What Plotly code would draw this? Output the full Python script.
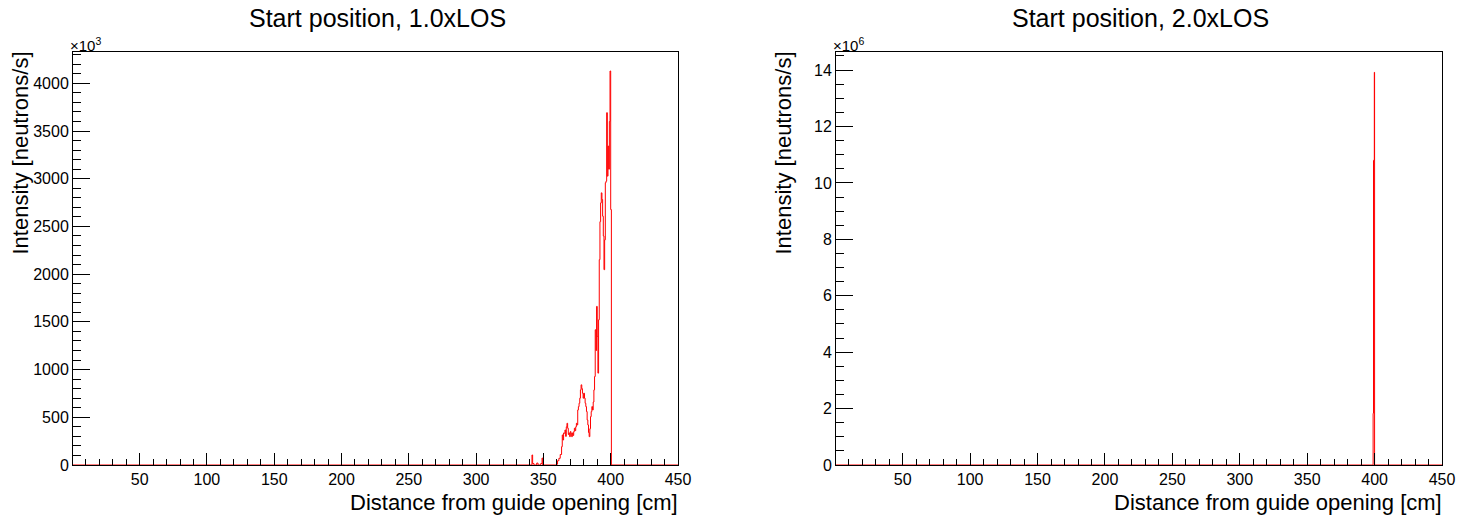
import plotly.graph_objects as go

# ---- data (bin left edges in cm, intensity in neutrons/s) ----
edges_1x = [0.5, 341.5, 342, 343, 345, 346, 348, 349, 349.5, 360, 360.5, 361.5, 362.5,
            363.5, 364, 364.5, 365, 365.5, 366, 366.5, 367, 367.5, 368, 368.5, 369, 369.5,
            370, 370.5, 371, 371.5, 372, 372.5, 373, 373.5, 374, 374.5, 375, 375.5, 376,
            376.5, 377, 377.5, 378, 378.5, 379, 379.5, 380, 380.5, 381, 381.5, 382, 382.5,
            383, 383.5, 384, 384.5, 385, 385.5, 386, 386.5, 387, 387.5, 388, 388.5, 389,
            389.5, 390, 390.5, 391, 391.5, 392, 392.5, 393, 393.5, 394, 394.5, 395, 395.5,
            396, 396.5, 397, 397.5, 398, 398.5, 399, 399.5, 400, 400.5, 450]
intensity_1x_k = [0, 105, 15, 0, 20, 0, 15, 73, 0, 10, 45, 70, 110,
                  192, 315, 262, 336, 333, 367, 300, 400, 437, 385, 320, 336, 297,
                  350, 330, 297, 336, 310, 350, 385, 360, 400, 437, 420, 577, 612,
                  647, 700, 787, 840, 800, 752, 700, 752, 700, 647, 612, 560, 472,
                  420, 340, 297, 380, 507, 560, 612, 577, 660, 787, 927, 1417, 1200,
                  1662, 1347, 963, 1522, 2152, 2550, 2747, 2852, 2782, 2607, 2400, 2047, 2360,
                  2958, 2974, 3692, 3027, 3342, 3100, 3600, 4129, 2677, 0, 0]

edges_2x = [0.5, 398.9, 399.2, 399.8, 400, 450]
intensity_2x_M = [0, 1.83, 10.8, 13.92, 0, 0]

titles = ["Start position, 1.0xLOS", "Start position, 2.0xLOS"]
x_title = "Distance from guide opening [cm]"
y_title = "Intensity [neutrons/s]"
exponents = ["3", "6"]

FONT = "Liberation Sans, Arial, Helvetica, sans-serif"
W, H = 1472, 518
dom_x = [[73 / W, 678 / W], [836 / W, 1442 / W]]
dom_y = [(518 - 465) / H, (518 - 52) / H]

fig = go.Figure()
fig.add_trace(go.Scatter(x=edges_1x, y=intensity_1x_k, mode="lines", line_shape="hv",
                         line=dict(color="#ff0000", width=1), xaxis="x", yaxis="y",
                         showlegend=False, cliponaxis=False))
fig.add_trace(go.Scatter(x=edges_2x, y=intensity_2x_M, mode="lines", line_shape="hv",
                         line=dict(color="#ff0000", width=1), xaxis="x2", yaxis="y2",
                         showlegend=False, cliponaxis=False))

def xaxis(i):
    return dict(domain=dom_x[i], range=[0.5, 450], tick0=0, dtick=50,
                ticks="inside", ticklen=12, tickcolor="black", tickwidth=1,
                minor=dict(ticks="inside", ticklen=6, tickcolor="black", dtick=10, tick0=0),
                showline=True, linecolor="black", linewidth=1, mirror=True,
                showgrid=False, zeroline=False, automargin=False,
                tickfont=dict(family=FONT, size=16, color="black"),
                anchor="y" if i == 0 else "y2")

def yaxis(i, rng, dt, mdt):
    return dict(domain=dom_y, range=rng, tick0=0, dtick=dt,
                ticks="inside", ticklen=17, tickcolor="black", tickwidth=1,
                minor=dict(ticks="inside", ticklen=8, tickcolor="black", dtick=mdt, tick0=0),
                showline=True, linecolor="black", linewidth=1, mirror=True,
                showgrid=False, zeroline=False, automargin=False,
                tickfont=dict(family=FONT, size=16, color="black"),
                anchor="x" if i == 0 else "x2")

fig.update_layout(
    width=W, height=H, margin=dict(l=0, r=0, t=0, b=0, pad=0), autosize=False,
    paper_bgcolor="white", plot_bgcolor="white",
    xaxis=xaxis(0), xaxis2=xaxis(1),
    yaxis=yaxis(0, [0, 4328], 500, 100),
    yaxis2=yaxis(1, [0, 14.64], 2, 0.5),
)

ann = []
for i in range(2):
    x0, x1 = dom_x[i]
    ann.append(dict(text=titles[i], xref="paper", yref="paper",
                    x=(377 if i == 0 else 1140) / W, y=(518 - 18) / H,
                    xanchor="center", yanchor="middle", showarrow=False,
                    font=dict(family=FONT, size=25, color="black")))
    ann.append(dict(text=x_title, xref="paper", yref="paper", x=x1 + 2 / W, y=(518 - 502) / H,
                    xanchor="right", yanchor="middle", showarrow=False,
                    font=dict(family=FONT, size=22, color="black")))
    ann.append(dict(text=y_title, xref="paper", yref="paper",
                    x=((20 if i == 0 else 783)) / W, y=dom_y[1] + 2 / H,
                    xanchor="center", yanchor="top", textangle=-90, showarrow=False,
                    font=dict(family=FONT, size=22, color="black")))
    ann.append(dict(text="\u00d710<sup>" + exponents[i] + "</sup>", xref="paper", yref="paper",
                    x=x0 - 5 / W, y=(518 - 44) / H, xanchor="left", yanchor="middle",
                    showarrow=False, font=dict(family=FONT, size=15, color="black")))
fig.update_layout(annotations=ann)

fig.write_html("out.html")
